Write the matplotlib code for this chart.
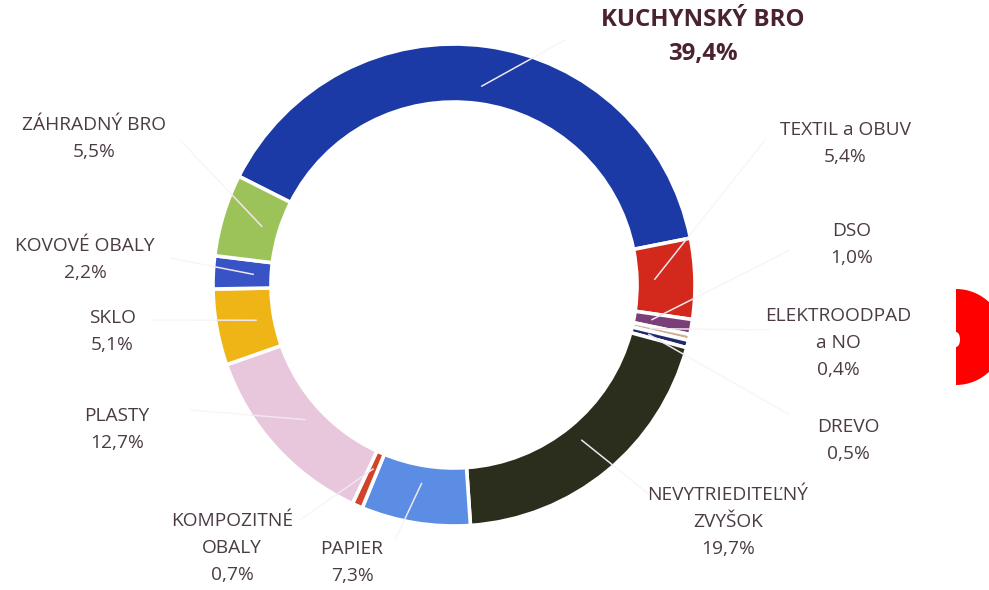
import numpy as np
import matplotlib
matplotlib.use("Agg")
import matplotlib.pyplot as plt
from matplotlib.patches import Wedge, Ellipse

# Waste composition shares (%)
categories = ["KUCHYNSKÝ BRO", "TEXTIL a OBUV", "DSO", "ELEKTROODPAD\na NO", "DREVO",
              "NEVYTRIEDITEĽNÝ\nZVYŠOK", "PAPIER", "KOMPOZITNÉ\nOBALY", "PLASTY",
              "SKLO", "KOVOVÉ OBALY", "ZÁHRADNÝ BRO"]
shares = [39.4, 5.4, 1.0, 0.4, 0.5, 19.7, 7.3, 0.7, 12.7, 5.1, 2.2, 5.5]
colors = ["#1b3aa6", "#d3281c", "#7a3f76", "#cfae90", "#1f2a6e", "#2b2e1c",
          "#5b8de4", "#d0452a", "#e8c6dc", "#efb416", "#3853c6", "#9cc25a"]

W, H = 989, 590
fig = plt.figure(figsize=(W / 100, H / 100), dpi=100)
ax = fig.add_axes([0, 0, 1, 1])

def Y(y):
    return H - y

cx, cy, R, ring = 454, Y(285), 241, 58
wedges, _ = ax.pie(shares, colors=colors, startangle=153.2, counterclock=False,
                   center=(cx, cy), radius=R, frame=True,
                   wedgeprops=dict(width=ring, edgecolor="white", linewidth=2.6))
ax.set_xlim(0, W)
ax.set_ylim(0, H)
ax.set_aspect("equal")
ax.set_axis_off()

txt = "#4b3b45"
font = "Open Sans"

# label layout: (center x, first line y) in pixel space
label_pos = [(703, 20), (845, 130), (852, 231), (838, 316), (848, 427),
             (728, 495), (352, 549), (232, 521), (117, 416), (112, 318),
             (85, 246), (94, 125)]
# where each leader line heads towards
leader_end = [(565, 40), (765, 140), (790, 250), (770, 330), (790, 415),
              (650, 495), (395, 540), (300, 520), (190, 410), (150, 320),
              (170, 258), (180, 140)]
pitch = 27

for i, (w, name, v) in enumerate(zip(wedges, categories, shares)):
    mid = np.deg2rad((w.theta1 + w.theta2) / 2)
    r0 = R - ring * 0.7
    x0, y0 = cx + r0 * np.cos(mid), cy + r0 * np.sin(mid)
    ex, ey = leader_end[i]
    ey = Y(ey)
    # fraction of the leader that lies inside the ring
    d = np.hypot(ex - x0, ey - y0)
    ux, uy = (ex - x0) / d, (ey - y0) / d
    # solve |p0 + t*u - c| = R for the exit point
    px, py = x0 - cx, y0 - cy
    b = px * ux + py * uy
    t = -b + np.sqrt(b * b - (px * px + py * py - R * R))
    xm, ym = x0 + t * ux, y0 + t * uy
    ax.plot([x0, xm], [y0, ym], color="#f1e6ef", lw=1.1, zorder=3,
            solid_capstyle="butt")
    ax.plot([xm, ex], [ym, ey], color="#f8f5f7", lw=1.0, zorder=3,
            solid_capstyle="butt")

    lines = name.split("\n") + [f"{v:.1f}".replace(".", ",") + "%"]
    lx, ly = label_pos[i]
    bold = i == 0
    for k, s in enumerate(lines):
        ax.text(lx, Y(ly + k * (34 if bold else pitch)), s, ha="center", va="center",
                fontsize=17.3 if bold else 13.8, family=font,
                fontweight="bold" if bold else "normal",
                color="#4a2232" if bold else txt, zorder=4)

# red marker on the right edge
ax.add_patch(Wedge((956, Y(337)), 48, -90, 90, color="#ff0000", lw=0, zorder=2))
ax.add_patch(Ellipse((956, Y(339.5)), 8, 15, color="white", lw=0, zorder=2))

fig.savefig("out.png", dpi=100, facecolor="white")
